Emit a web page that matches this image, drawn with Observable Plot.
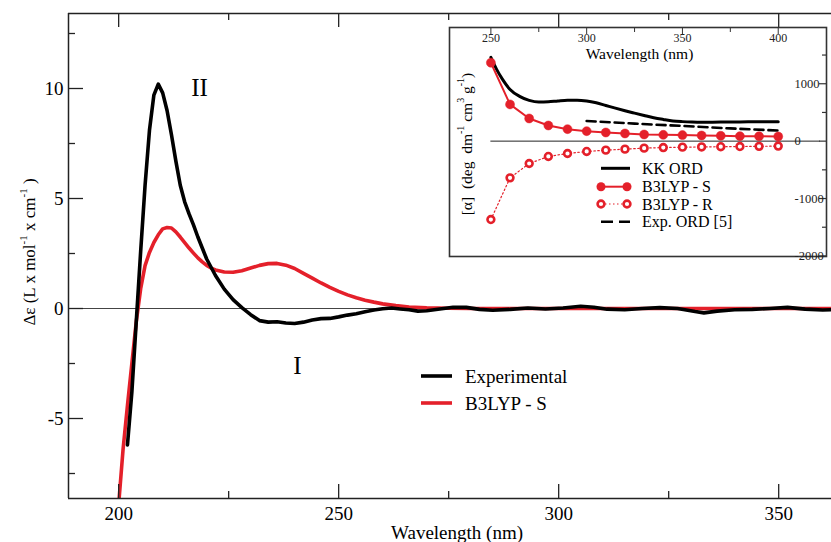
<!DOCTYPE html>
<html><head><meta charset="utf-8">
<script src="https://cdn.jsdelivr.net/npm/d3@7"></script>
<script src="https://cdn.jsdelivr.net/npm/@observablehq/plot@0.6"></script>
<style>
html,body{margin:0;padding:0;background:#fff;}
#wrap{position:relative;width:831px;height:542px;overflow:hidden;background:#fff;}
#inset{position:absolute;left:447px;top:25px;}
svg{display:block}
</style></head><body>
<div id="wrap"><div id="main"></div><div id="inset"></div></div>
<script>
// ---------- Main CD spectrum ----------
const expWl = [202,203,204,205,206,207,208,209,210,211,212,213,214,215,216,217,218,219,220,222,224,226,228,230,232,234,236,238,240,242,244,246,248,250,252,254,256,258,260,262,264,266,268,270,273,276,279,282,285,289,293,297,301,305,308,311,315,319,323,327,331,333,336,340,344,348,352,356,360,363];
const expDe = [-6.2,-3.8,-0.6,2.6,5.6,8.1,9.7,10.2,9.8,9.0,7.9,6.7,5.6,4.85,4.3,3.8,3.25,2.75,2.25,1.5,0.88,0.4,0.04,-0.28,-0.55,-0.62,-0.6,-0.66,-0.68,-0.62,-0.52,-0.46,-0.45,-0.38,-0.3,-0.24,-0.15,-0.07,-0.01,0.02,-0.02,-0.06,-0.12,-0.1,-0.02,0.06,0.05,-0.04,-0.08,-0.04,0.02,-0.02,0.02,0.1,0.06,-0.03,-0.06,0.0,0.04,0.0,-0.14,-0.2,-0.12,-0.06,-0.04,0.0,0.05,-0.03,-0.07,-0.05];
const calcWl = [200,201,202,203,204,205,206,207,208,209,210,211,212,213,214,215,216,217,218,219,220,221,222,224,226,228,230,232,234,236,238,240,242,244,246,248,250,252,254,256,258,260,263,266,270,275,280,300,330,362];
const calcDe = [-8.9,-6.4,-4.4,-2.5,-0.6,0.9,1.95,2.55,3.0,3.35,3.62,3.68,3.66,3.48,3.25,3.0,2.75,2.52,2.3,2.12,1.96,1.84,1.75,1.66,1.65,1.72,1.84,1.96,2.04,2.05,1.97,1.82,1.6,1.38,1.16,0.96,0.78,0.62,0.49,0.38,0.29,0.21,0.13,0.07,0.03,0.01,0,0,0,0];
const mainXMajor = [200,250,300,350];
const mainXMinor = [225,275,325];
const mainYMajor = [-5,0,5,10];
const mainYMinor = [-7.5,-2.5,2.5,7.5,12.5];
const bandLabels = ["II","I"];
const bandWl = [218.4,240.6];
const bandDe = [10.0,-2.6];
const mainSeries = ["Experimental","B3LYP - S"];

// ---------- Inset ORD ----------
const kkWl = [250,253,256,260,265,270,275,280,285,290,295,300,305,310,315,320,325,330,335,340,345,350,355,360,370,380,390,400];
const kkVal = [1460,1250,1080,900,780,710,680,685,700,712,714,700,668,622,575,530,488,447,408,378,352,340,333,330,332,335,337,337];
const calcOrdWl = [250,260,270,280,290,300,310,320,330,340,350,360,370,380,390,400];
const b3lypS = [1366,640,395,273,209,174,151,134,116,110,105,99,93,87,85,81];
const b3lypR = [-1366,-640,-390,-267,-215,-180,-157,-140,-122,-112,-105,-101,-97,-94,-91,-86];
const expOrdWl = [300,325,350,375,400];
const expOrdVal = [350,305,265,222,185];
const insetXTicks = [250,275,300,325,350,375,400];
const insetXLabels = [250,300,350,400];
const insetYMajor = [1000,0,-1000,-2000];
const insetYMinor = [1500,500,-500,-1500];
const insetSeries = ["KK ORD","B3LYP - S","B3LYP - R","Exp. ORD [5]"];

const RED = "#e4202a";
const FONT = "'Liberation Serif','Times New Roman',serif";
const AX = "#222";

// ---------- main plot ----------
const W=831,H=542,mL=68,mT=13,mB=44,mR=0;
const xDom=[188.6,362.0], yDom=[-8.636,13.409];
const pxX=(W-mL-mR)/(xDom[1]-xDom[0]);
const pxY=(H-mT-mB)/(yDom[1]-yDom[0]);
const expData = expWl.map((x,i)=>({x,y:expDe[i]}));
const calcData = calcWl.map((x,i)=>({x,y:calcDe[i]}));
const bands = bandLabels.map((t,i)=>({t,x:bandWl[i],y:bandDe[i]}));

const main = Plot.plot({
  width:W,height:H,marginLeft:mL,marginTop:mT,marginBottom:mB,marginRight:mR,
  x:{domain:xDom,axis:null}, y:{domain:yDom,axis:null},
  style:{fontFamily:FONT,background:"transparent",overflow:"visible",color:"#000"},
  marks:[
    Plot.ruleY([0],{stroke:"#444",strokeWidth:1}),
    Plot.line(calcData,{x:"x",y:"y",stroke:RED,strokeWidth:3.6,clip:true}),
    Plot.line(expData,{x:"x",y:"y",stroke:"#000",strokeWidth:3.6,clip:true}),
    Plot.ruleY([yDom[0],yDom[1]],{stroke:AX,strokeWidth:1.5}),
    Plot.ruleX([xDom[0]],{stroke:AX,strokeWidth:1.5}),
    Plot.ruleX(mainXMajor,{x:d=>d,y1:()=>yDom[0],y2:()=>yDom[0]+14/pxY,stroke:AX,strokeWidth:1.3}),
    Plot.ruleX(mainXMinor,{x:d=>d,y1:()=>yDom[0],y2:()=>yDom[0]+7/pxY,stroke:AX,strokeWidth:1.3}),
    Plot.ruleX(mainXMajor,{x:d=>d,y1:()=>yDom[1],y2:()=>yDom[1]-14/pxY,stroke:AX,strokeWidth:1.3}),
    Plot.ruleX(mainXMinor,{x:d=>d,y1:()=>yDom[1],y2:()=>yDom[1]-7/pxY,stroke:AX,strokeWidth:1.3}),
    Plot.ruleY(mainYMajor,{y:d=>d,x1:()=>xDom[0],x2:()=>xDom[0]+15/pxX,stroke:AX,strokeWidth:1.3}),
    Plot.ruleY(mainYMinor,{y:d=>d,x1:()=>xDom[0],x2:()=>xDom[0]+7/pxX,stroke:AX,strokeWidth:1.3}),
    Plot.text(mainXMajor,{x:d=>d,text:d=>String(d),frameAnchor:"bottom",dy:15,lineAnchor:"middle",fontSize:19}),
    Plot.text(mainYMajor,{y:d=>d,text:d=>String(d),frameAnchor:"left",dx:-5,textAnchor:"end",lineAnchor:"middle",fontSize:19}),
    Plot.text(["Wavelength (nm)"],{text:d=>d,frameAnchor:"bottom",dx:7,dy:34,lineAnchor:"middle",fontSize:19}),
    Plot.text(bands,{x:"x",y:"y",text:"t",fontSize:25,lineAnchor:"middle"})
  ]
});
document.getElementById("main").appendChild(main);

const ms = d3.select(main);
// axis title with superscripts
function supText(g, parts, size, supSize, shift){
  let up = false;
  parts.forEach(p=>{
    if (typeof p === "string") {
      g.append("tspan").attr("font-size",size).attr("dy", up ? shift : 0).text(p);
      up = false;
    } else {
      g.append("tspan").attr("font-size",supSize).attr("dy", -shift).text(p.sup);
      up = true;
    }
  });
}
const yt = ms.append("text").attr("transform","translate(31,252) rotate(-90)")
  .attr("text-anchor","middle").attr("dominant-baseline","middle")
  .attr("font-family",FONT).attr("fill","#000");
supText(yt,["Δε (L x mol",{sup:"-1"}," x cm",{sup:"-1"}," )"],17,11,7);

// main legend
const lg = ms.append("g").attr("font-family",FONT).attr("font-size",19).attr("text-anchor","start");
mainSeries.forEach((s,i)=>{
  const y = 376 + i*27;
  lg.append("line").attr("x1",421).attr("x2",452).attr("y1",y).attr("y2",y)
    .attr("stroke", i===0?"#000":RED).attr("stroke-width",3.6);
  lg.append("text").attr("x",465).attr("y",y).attr("text-anchor","start").attr("dominant-baseline","central").text(s);
});

// ---------- inset plot ----------
const iW=381,iH=233,im=2;
const ixDom=[228.4,425.2], iyDom=[-2010,1980];
const ipxX=(iW-2*im)/(ixDom[1]-ixDom[0]);
const ipxY=(iH-2*im)/(iyDom[1]-iyDom[0]);
const kk = kkWl.map((x,i)=>({x,y:kkVal[i]}));
const sS = calcOrdWl.map((x,i)=>({x,y:b3lypS[i]}));
const sR = calcOrdWl.map((x,i)=>({x,y:b3lypR[i]}));
const eo = expOrdWl.map((x,i)=>({x,y:expOrdVal[i]}));

const inset = Plot.plot({
  width:iW,height:iH,marginLeft:im,marginRight:im,marginTop:im,marginBottom:im,
  x:{domain:ixDom,axis:null}, y:{domain:iyDom,axis:null},
  style:{fontFamily:FONT,background:"transparent",overflow:"visible",color:"#000"},
  marks:[
    Plot.frame({fill:"white",stroke:"#333",strokeWidth:1.6}),
    Plot.ruleY([0],{x1:()=>250,x2:()=>422,stroke:"#222",strokeWidth:1}),
    Plot.line(kk,{x:"x",y:"y",stroke:"#000",strokeWidth:3,curve:"monotone-x"}),
    Plot.line(eo,{x:"x",y:"y",stroke:"#000",strokeWidth:2.6,strokeDasharray:"9,5"}),
    Plot.line(sS,{x:"x",y:"y",stroke:RED,strokeWidth:2}),
    Plot.dot(sS,{x:"x",y:"y",r:4.5,fill:RED,stroke:RED,strokeWidth:0.5}),
    Plot.line(sR,{x:"x",y:"y",stroke:RED,strokeWidth:1.2,strokeDasharray:"1.5,2.5"}),
    Plot.dot(sR,{x:"x",y:"y",r:3.4,fill:"white",stroke:RED,strokeWidth:2.6}),
    Plot.ruleX(insetXTicks,{x:d=>d,y1:()=>iyDom[1],y2:d=>iyDom[1]-(d%50===0?7:5)/ipxY,stroke:"#333",strokeWidth:1}),
    Plot.ruleY(insetYMajor,{y:d=>d,x1:()=>ixDom[1]-7/ipxX,x2:()=>ixDom[1],stroke:"#333",strokeWidth:1.2}),
    Plot.ruleY(insetYMinor,{y:d=>d,x1:()=>ixDom[1]-4/ipxX,x2:()=>ixDom[1],stroke:"#333",strokeWidth:1.2}),
    Plot.text(insetXLabels,{x:d=>d,text:d=>String(d),frameAnchor:"top",dy:11,lineAnchor:"middle",fontSize:12,fill:"#222"}),
    Plot.text(insetYMajor,{y:d=>d,text:d=>String(d),frameAnchor:"right",dx:-32,textAnchor:"start",lineAnchor:"middle",fontSize:12.5,fill:"#222"}),
    Plot.text(["Wavelength (nm)"],{text:d=>d,frameAnchor:"top",dx:1.5,dy:27,lineAnchor:"middle",fontSize:15.5})
  ]
});
document.getElementById("inset").appendChild(inset);
const is = d3.select(inset);
// inset y title (inset frame starts at 2,2 in inset coordinates)
const iyt = is.append("text").attr("transform","translate(21,119) rotate(-90)")
  .attr("text-anchor","middle").attr("dominant-baseline","middle")
  .attr("font-family",FONT).attr("fill","#000");
supText(iyt,["[α]  (deg  dm",{sup:"-1"}," cm",{sup:"3"}," g",{sup:"-1"},")"],15.5,10,6);

// inset legend
const ilg = is.append("g").attr("font-family",FONT).attr("font-size",16).attr("text-anchor","start");
const rowsY = [143.3,161.7,179,196.7];
insetSeries.forEach((s,i)=>{
  const y = rowsY[i];
  const x1 = 154, x2 = 183;
  if (i===0) ilg.append("line").attr("x1",x1).attr("x2",x2).attr("y1",y).attr("y2",y).attr("stroke","#000").attr("stroke-width",3);
  if (i===1) {
    ilg.append("line").attr("x1",x1-3).attr("x2",x2).attr("y1",y).attr("y2",y).attr("stroke",RED).attr("stroke-width",2);
    [x1,x2-3].forEach(cx=>ilg.append("circle").attr("cx",cx).attr("cy",y).attr("r",4.5).attr("fill",RED));
  }
  if (i===2) {
    ilg.append("line").attr("x1",x1).attr("x2",x2-3).attr("y1",y).attr("y2",y).attr("stroke",RED).attr("stroke-width",1.2).attr("stroke-dasharray","1.5,2.5");
    [x1,x2-3].forEach(cx=>ilg.append("circle").attr("cx",cx).attr("cy",y).attr("r",3.4).attr("fill","white").attr("stroke",RED).attr("stroke-width",2.6));
  }
  if (i===3) ilg.append("line").attr("x1",x1).attr("x2",x2).attr("y1",y).attr("y2",y).attr("stroke","#000").attr("stroke-width",2.6).attr("stroke-dasharray","12,6");
  ilg.append("text").attr("x",195).attr("y",y).attr("text-anchor","start").attr("dominant-baseline","central").text(s);
});
</script>
</body></html>
